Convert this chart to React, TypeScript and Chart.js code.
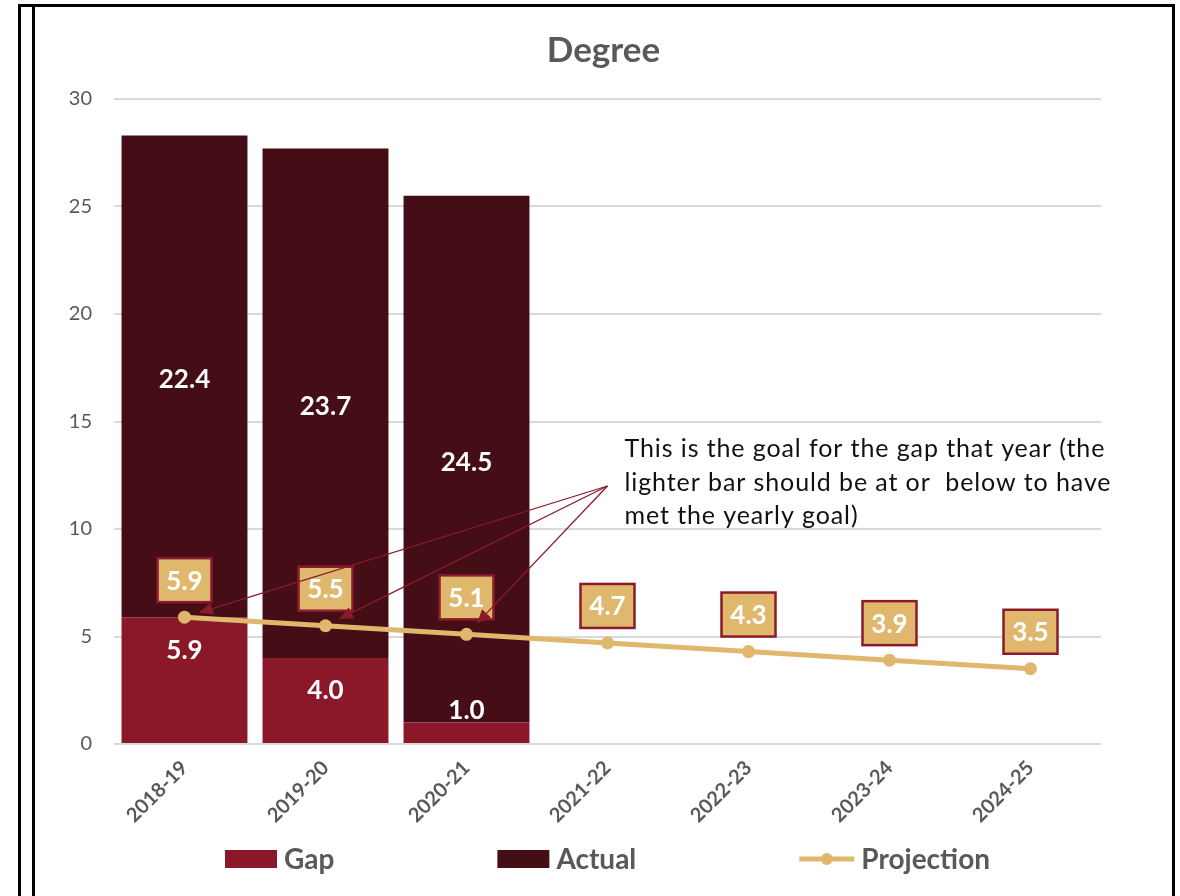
import React, { useEffect, useRef } from "react";
import { Chart, registerables } from "chart.js";

Chart.register(...registerables);

const categories = ["2018-19", "2019-20", "2020-21", "2021-22", "2022-23", "2023-24", "2024-25"];
const gapValues = [5.9, 4.0, 1.0, null, null, null, null];
const actualValues = [22.4, 23.7, 24.5, null, null, null, null];
const projectionValues = [5.9, 5.5, 5.1, 4.7, 4.3, 3.9, 3.5];
const yTickValues = [0, 5, 10, 15, 20, 25, 30];
const seriesNames = ["Gap", "Actual", "Projection"];
const titleText = "Degree";
const noteLines = [
  "This is the goal for the gap that year (the",
  "lighter bar should be at or  below to have",
  "met the yearly goal)",
];
const noteAnchorIndex = 3;
const noteAnchorValue = 12;
const notePointIndices = [0, 1, 2];

const FONT = "Lato, 'Open Sans', 'DejaVu Sans', sans-serif";
const GAP_COLOR = "#8A1829";
const ACTUAL_COLOR = "#450D15";
const GOLD = "#DFB86D";
const LABEL_BORDER = "#8B1A2B";
const AXIS_TEXT = "#595959";
const GRID = "#D9D9D9";

const customPlugin = {
  id: "customDraw",
  afterDatasetsDraw(chart: any) {
    const ctx = chart.ctx as CanvasRenderingContext2D;
    ctx.save();

    // bar labels
    ctx.font = `bold 26px ${FONT}`;
    ctx.fillStyle = "#FFFFFF";
    ctx.textAlign = "center";
    ctx.textBaseline = "middle";
    const gapMeta = chart.getDatasetMeta(0);
    gapMeta.data.forEach((el: any, i: number) => {
      const v = gapValues[i];
      if (v == null) return;
      const h = el.base - el.y;
      const y = h > 60 ? el.y + 33 : el.y - 12;
      ctx.fillText(v.toFixed(1), el.x, y);
    });
    const actMeta = chart.getDatasetMeta(1);
    actMeta.data.forEach((el: any, i: number) => {
      const v = actualValues[i];
      if (v == null) return;
      ctx.fillText(v.toFixed(1), el.x, (el.y + el.base) / 2 + 3);
    });

    // projection labels
    const lineMeta = chart.getDatasetMeta(2);
    lineMeta.data.forEach((el: any, i: number) => {
      const v = projectionValues[i];
      const cx = el.x;
      const cy = el.y - 37;
      const w = 54;
      const h = 44;
      ctx.fillStyle = GOLD;
      ctx.fillRect(cx - w / 2, cy - h / 2, w, h);
      ctx.strokeStyle = LABEL_BORDER;
      ctx.lineWidth = 2.5;
      ctx.strokeRect(cx - w / 2, cy - h / 2, w, h);
      ctx.fillStyle = "#FFFFFF";
      ctx.fillText(v.toFixed(1), cx, cy + 1);
    });

    // annotation
    const xs = chart.scales.x;
    const ys = chart.scales.y;
    const sx = xs.getPixelForValue(noteAnchorIndex);
    const sy = ys.getPixelForValue(noteAnchorValue);
    ctx.font = `25px ${FONT}`;
    (ctx as any).letterSpacing = "0.9px";
    ctx.fillStyle = "#111111";
    ctx.textAlign = "left";
    ctx.textBaseline = "middle";
    noteLines.forEach((t, i) => {
      ctx.fillText(t, sx + 17, sy - 37 + i * 33.5);
    });
    (ctx as any).letterSpacing = "0px";

    ctx.strokeStyle = LABEL_BORDER;
    ctx.fillStyle = LABEL_BORDER;
    ctx.lineWidth = 1.3;
    notePointIndices.forEach((idx) => {
      const p = lineMeta.data[idx];
      const dx = sx - p.x;
      const dy = sy - p.y;
      const len = Math.sqrt(dx * dx + dy * dy);
      const ux = dx / len;
      const uy = dy / len;
      const tx = p.x + ux * 15;
      const ty = p.y + uy * 15;
      const headLen = 14;
      const headW = 6;
      const bx = tx + ux * headLen;
      const by = ty + uy * headLen;
      ctx.beginPath();
      ctx.moveTo(sx, sy);
      ctx.lineTo(bx, by);
      ctx.stroke();
      ctx.beginPath();
      ctx.moveTo(tx, ty);
      ctx.lineTo(bx - uy * headW, by + ux * headW);
      ctx.lineTo(bx + uy * headW, by - ux * headW);
      ctx.closePath();
      ctx.fill();
    });

    ctx.restore();
  },
  afterDraw(chart: any) {
    const ctx = chart.ctx as CanvasRenderingContext2D;
    const area = chart.chartArea;
    const cx = (area.left + area.right) / 2;
    ctx.save();
    // title
    ctx.font = `bold 35px ${FONT}`;
    ctx.fillStyle = AXIS_TEXT;
    ctx.textAlign = "center";
    ctx.textBaseline = "middle";
    ctx.fillText(titleText, cx - 4, area.top - 48);

    // legend
    ctx.font = `bold 28px ${FONT}`;
    const items = chart.data.datasets.map((d: any) => ({
      text: d.label,
      type: d.type,
      color: d.type === "line" ? d.borderColor : d.backgroundColor,
    }));
    const symW = (it: any) => (it.type === "line" ? 55 : 52);
    const textGap = 7;
    const spacing = 163;
    const widths = items.map((it: any) => symW(it) + textGap + ctx.measureText(it.text).width);
    const total = widths.reduce((a: number, b: number) => a + b, 0) + spacing * (items.length - 1);
    let x = cx - total / 2;
    const ly = area.bottom + 115;
    ctx.textAlign = "left";
    items.forEach((it: any, i: number) => {
      if (it.type === "line") {
        ctx.strokeStyle = it.color;
        ctx.lineWidth = 5;
        ctx.beginPath();
        ctx.moveTo(x, ly);
        ctx.lineTo(x + 55, ly);
        ctx.stroke();
        ctx.fillStyle = it.color;
        ctx.beginPath();
        ctx.arc(x + 27.5, ly, 6, 0, Math.PI * 2);
        ctx.fill();
      } else {
        ctx.fillStyle = it.color;
        ctx.fillRect(x, ly - 9, 52, 18);
      }
      ctx.fillStyle = AXIS_TEXT;
      ctx.fillText(it.text, x + symW(it) + textGap, ly + 1);
      x += widths[i] + spacing;
    });
    ctx.restore();
  },
};

export default function App() {
  const canvasRef = useRef<HTMLCanvasElement | null>(null);

  useEffect(() => {
    const canvas = canvasRef.current;
    if (!canvas) return;
    const chart = new Chart(canvas, {
      type: "bar",
      data: {
        labels: categories,
        datasets: [
          {
            type: "bar",
            label: seriesNames[0],
            data: gapValues as any,
            backgroundColor: GAP_COLOR,
            order: 1,
            categoryPercentage: 0.893,
            barPercentage: 1,
          },
          {
            type: "bar",
            label: seriesNames[1],
            data: actualValues as any,
            backgroundColor: ACTUAL_COLOR,
            order: 2,
            categoryPercentage: 0.893,
            barPercentage: 1,
          },
          {
            type: "line",
            label: seriesNames[2],
            data: projectionValues,
            borderColor: GOLD,
            backgroundColor: GOLD,
            borderWidth: 5,
            pointRadius: 6.5,
            pointBackgroundColor: GOLD,
            pointBorderWidth: 0,
            order: 0,
            tension: 0,
          } as any,
        ],
      },
      options: {
        responsive: false,
        animation: false,
        devicePixelRatio: 1,
        layout: { padding: { left: 40, right: 79, top: 99, bottom: 0 } },
        plugins: {
          legend: { display: false },
          title: { display: false },
          tooltip: { enabled: false },
        },
        scales: {
          x: {
            stacked: true,
            grid: { display: false },
            border: { display: false },
            ticks: {
              color: AXIS_TEXT,
              font: { family: FONT, size: 20, weight: "bold" },
              maxRotation: 45,
              minRotation: 45,
              padding: 4,
            },
            afterFit: (scale: any) => {
              scale.height = 152;
            },
          },
          y: {
            stacked: true,
            min: 0,
            max: 30,
            grid: { color: GRID, lineWidth: 2, drawTicks: false },
            border: { display: false },
            ticks: {
              color: AXIS_TEXT,
              font: { family: FONT, size: 20 },
              padding: 22,
            },
            afterBuildTicks: (scale: any) => {
              scale.ticks = yTickValues.map((v) => ({ value: v }));
            },
            afterFit: (scale: any) => {
              scale.width = 74;
            },
          },
        },
      },
      plugins: [customPlugin],
    });
    return () => chart.destroy();
  }, []);

  return (
    <div
      style={{
        position: "fixed",
        left: 0,
        top: 0,
        width: 1180,
        height: 896,
        overflow: "hidden",
        background: "#FFFFFF",
      }}
    >
      <canvas ref={canvasRef} width={1180} height={896} style={{ position: "absolute", left: 0, top: 0 }} />
      <div
        style={{
          position: "absolute",
          left: 18,
          top: 4,
          width: 1157,
          height: 960,
          boxSizing: "border-box",
          borderTop: "3px solid #000",
          borderLeft: "3px solid #000",
          borderRight: "3px solid #000",
          pointerEvents: "none",
        }}
      />
      <div
        style={{
          position: "absolute",
          left: 32,
          top: 4,
          width: 3,
          height: 960,
          background: "#000",
          pointerEvents: "none",
        }}
      />
    </div>
  );
}
